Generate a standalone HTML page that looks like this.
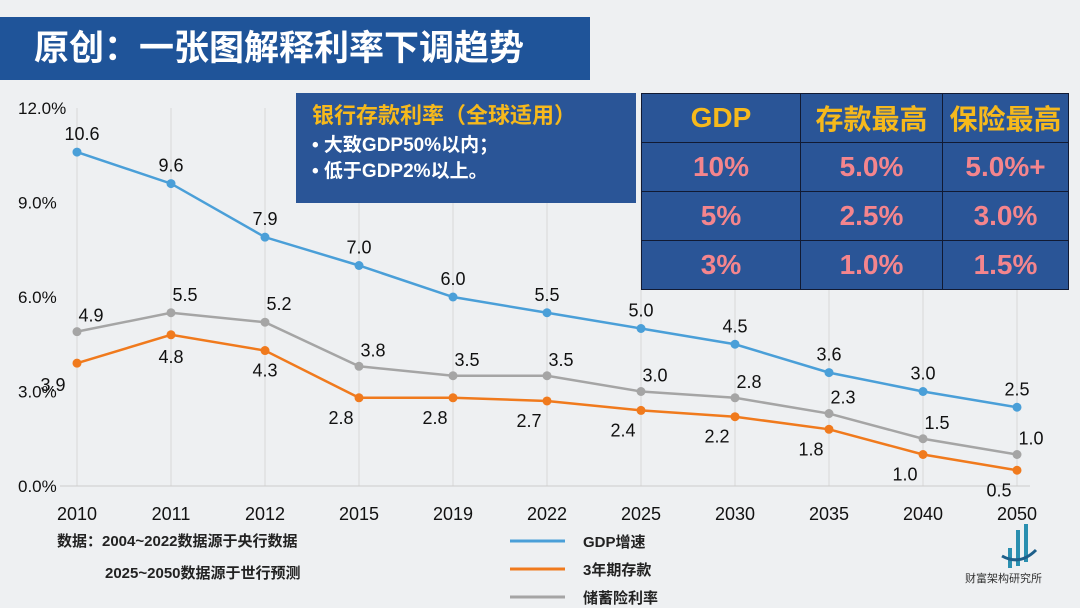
<!DOCTYPE html>
<html><head><meta charset="utf-8">
<style>
body{margin:0;width:1080px;height:608px;overflow:hidden;background:#eef0f2;font-family:"Liberation Sans","Noto Sans CJK SC",sans-serif;position:relative}
.abs{position:absolute}
#title{left:0;top:17px;width:590px;height:63px;background:#1f5499;color:#fff;font-size:35px;font-weight:bold;line-height:63px;padding-left:34px;box-sizing:border-box;font-family:"Liberation Sans","Noto Sans CJK SC",sans-serif}
#note{left:296px;top:93px;width:340px;height:110px;background:#2a5597;color:#fff;font-weight:bold;font-size:19px;padding:10px 0 0 16px;box-sizing:border-box;line-height:26px}
#note .h{color:#f6b91c;font-size:22px;margin-bottom:4px}
table{position:absolute;left:641px;top:93px;border-collapse:collapse;background:#2a5597}
td{border:1.5px solid #111a33;text-align:center;font-weight:bold;font-size:28px;color:#f4858d;height:48px;padding:0}
td.h{color:#f6b91c}
</style></head><body>
<div id="title" class="abs">原创：一张图解释利率下调趋势</div>
<svg id="chart" class="abs" style="left:0;top:0" width="1080" height="608"></svg>
<div id="note" class="abs"><div class="h">银行存款利率（全球适用）</div><div>• 大致GDP50%以内；</div><div>• 低于GDP2%以上。</div></div>
<table>
<tr><td class="h" style="width:158px">GDP</td><td class="h" style="width:141px">存款最高</td><td class="h" style="width:125px">保险最高</td></tr>
<tr><td>10%</td><td>5.0%</td><td>5.0%+</td></tr>
<tr><td>5%</td><td>2.5%</td><td>3.0%</td></tr>
<tr><td>3%</td><td>1.0%</td><td>1.5%</td></tr>
</table>
<div class="abs" style="left:57px;top:530px;font-size:15px;font-weight:bold;color:#222">数据：2004~2022数据源于央行数据</div>
<div class="abs" style="left:105px;top:562px;font-size:15px;font-weight:bold;color:#222">2025~2050数据源于世行预测</div>
<div class="abs" style="left:965px;top:570px;font-size:11px;color:#333">财富架构研究所</div>
<script>
const categories=["2010","2011","2012","2015","2019","2022","2025","2030","2035","2040","2050"];
const gdp=[10.6,9.6,7.9,7.0,6.0,5.5,5.0,4.5,3.6,3.0,2.5];
const deposit=[3.9,4.8,4.3,2.8,2.8,2.7,2.4,2.2,1.8,1.0,0.5];
const insurance=[4.9,5.5,5.2,3.8,3.5,3.5,3.0,2.8,2.3,1.5,1.0];
const yTicks=[0,3,6,9,12];
const NS="http://www.w3.org/2000/svg";
const svg=document.getElementById('chart');
const x=i=>77+i*94;
const y=v=>486-v*31.5;
function mk(t,a,p){const e=document.createElementNS(NS,t);for(const k in a)e.setAttribute(k,a[k]);(p||svg).appendChild(e);return e;}
categories.forEach((c,i)=>{
 const g=mk('line',{x1:x(i),x2:x(i),y1:y(12),y2:y(0),stroke:'#d8d8d8','stroke-width':1});
 
 
 const t=mk('text',{x:x(i),y:520,'text-anchor':'middle','font-size':18,fill:'#111'});t.textContent=c;
 
 
});
const base=mk('line',{x1:60,x2:1030,y1:y(0),y2:y(0),stroke:'#ccc'});


yTicks.forEach(v=>{
 const t=mk('text',{x:18,y:y(v)+6,'font-size':17,fill:'#111'});t.textContent=v.toFixed(1)+'%';
 
 
});
const series=[
 {d:insurance,c:'#a5a5a5',name:'insurance-rate',lab:[[14,-10],[14,-12],[14,-12],[14,-10],[14,-10],[14,-10],[14,-10],[14,-10],[14,-10],[14,-10],[14,-10]]},
 {d:deposit,c:'#f07a1d',name:'deposit-rate',lab:[[-24,28],[0,28],[0,26],[-18,26],[-18,26],[-18,26],[-18,26],[-18,26],[-18,26],[-18,26],[-18,26]]},
 {d:gdp,c:'#4a9fd8',name:'gdp-growth',lab:[[5,-12],[0,-12],[0,-12],[0,-12],[0,-12],[0,-12],[0,-12],[0,-12],[0,-12],[0,-12],[0,-12]]}
];
series.forEach(s=>{
 const p=mk('polyline',{points:s.d.map((v,i)=>x(i)+','+y(v)).join(' '),fill:'none',stroke:s.c,'stroke-width':2.5});
 
 
 s.d.forEach((v,i)=>{
  const c=mk('circle',{cx:x(i),cy:y(v),r:4.5,fill:s.c});
  
  
  const t=mk('text',{x:x(i)+s.lab[i][0],y:y(v)+s.lab[i][1],'text-anchor':'middle','font-size':18,fill:'#111'});t.textContent=v.toFixed(1);
  
  
 });
});
const leg=[['GDP增速','#4a9fd8'],['3年期存款','#f07a1d'],['储蓄险利率','#a5a5a5']];
leg.forEach((l,i)=>{
 const ly=541+i*28;
 const ln=mk('line',{x1:510,x2:565,y1:ly,y2:ly,stroke:l[1],'stroke-width':3});
 
 
 const t=mk('text',{x:583,y:ly+6,'font-size':15,'font-weight':'bold',fill:'#222'});t.textContent=l[0];
 
 
});
const logo=mk('g',{});


[[1010,548,1010,568],[1018,530,1018,566],[1026,524,1026,562]].forEach(a=>mk('line',{x1:a[0],y1:a[1],x2:a[2],y2:a[3],stroke:'#2a8fb0','stroke-width':4},logo));
mk('path',{d:'M1002 556 Q1020 566 1036 550',fill:'none',stroke:'#1d5f8a','stroke-width':3},logo);
</script>
</body></html>
